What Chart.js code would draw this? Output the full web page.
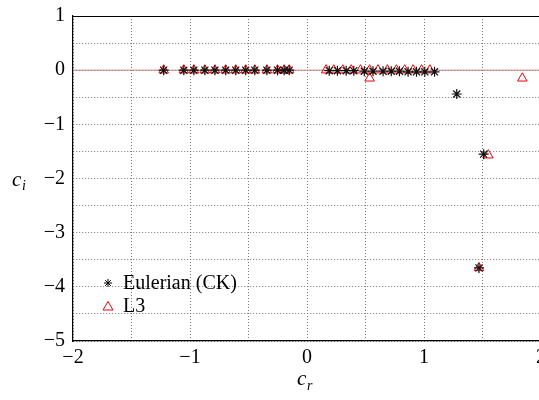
<!DOCTYPE html>
<html><head><meta charset="utf-8">
<script src="https://cdn.jsdelivr.net/npm/chart.js@4"></script>
<style>
html,body{margin:0;padding:0;background:#fff;overflow:hidden;width:539px;height:400px}
#wrap{position:absolute;left:0;top:-4px;width:551px;height:404px}
</style></head><body>
<div id="wrap"><canvas id="c"></canvas></div>
<script>
const eulerCr = [-1.225,-1.053,-0.967,-0.873,-0.787,-0.695,-0.609,-0.524,-0.446,-0.343,-0.252,-0.195,-0.152,
  0.19,0.26,0.335,0.40,0.49,0.564,0.65,0.72,0.79,0.864,0.936,1.007,1.09,1.28,1.51,1.47];
const eulerCi = [0,0,0,0,0,0,0,0,0,0,0,0,0,
  -0.01,-0.01,-0.01,-0.01,-0.02,-0.02,-0.02,-0.02,-0.02,-0.03,-0.03,-0.03,-0.03,-0.44,-1.55,-3.65];
const l3Cr = [-1.225,-1.053,-0.967,-0.873,-0.787,-0.695,-0.609,-0.524,-0.446,-0.343,-0.252,-0.195,-0.152,
  0.163,0.229,0.306,0.378,0.457,0.535,0.607,0.687,0.764,0.835,0.907,0.979,1.05,0.535,1.84,1.55,1.47];
const l3Ci = [0,0,0,0,0,0,0,0,0,0,0,0,0,
  0,0,0,0,0,0,0,0,0,0,0,0,0,-0.15,-0.15,-1.57,-3.65];
const xTicks = [-2,-1,0,1,2];
const yTicks = [1,0,-1,-2,-3,-4,-5];
const seriesNames = ['Eulerian (CK)','L3'];

const toPts = (xs,ys)=>xs.map((x,i)=>({x:x,y:ys[i]}));
const fmt = v => (v<0?'\u2212':'')+Math.abs(v);
const SERIF = '"Liberation Serif","DejaVu Serif",serif';
const OFF = 4; // wrap offset

const deco = {
  id:'deco',
  afterDraw(chart){
    const {ctx, chartArea:a} = chart;
    ctx.save();
    ctx.strokeStyle='#000'; ctx.lineWidth=1.2;
    ctx.beginPath(); ctx.moveTo(a.left, Math.round(a.top)+0.5); ctx.lineTo(a.right+10, Math.round(a.top)+0.5); ctx.stroke();
    // legend
    const lx = 108, ly1 = 283+OFF, ly2 = 306+OFF;
    ctx.fillStyle='#000'; ctx.font='20px '+SERIF; ctx.textBaseline='middle'; ctx.textAlign='left';
    ctx.strokeStyle='#000'; ctx.lineWidth=1;
    for(let k=0;k<4;k++){const ang=k*Math.PI/4; ctx.beginPath(); ctx.moveTo(lx-4*Math.cos(ang),ly1-4*Math.sin(ang)); ctx.lineTo(lx+4*Math.cos(ang),ly1+4*Math.sin(ang)); ctx.stroke();}
    ctx.fillText(seriesNames[0], 123, ly1+1);
    ctx.strokeStyle='#e00'; ctx.beginPath(); ctx.moveTo(lx,ly2-4.5); ctx.lineTo(lx+5,ly2+4); ctx.lineTo(lx-5,ly2+4); ctx.closePath(); ctx.stroke();
    ctx.fillText(seriesNames[1], 123, ly2+1);
    // axis titles
    ctx.font='italic 21px '+SERIF; ctx.textAlign='left'; ctx.textBaseline='alphabetic';
    ctx.fillText('c', 12, 186+OFF);
    ctx.font='italic 14px '+SERIF; ctx.fillText('i', 22, 190+OFF);
    ctx.font='italic 21px '+SERIF;
    ctx.fillText('c', 297, 385+OFF);
    ctx.font='italic 14px '+SERIF; ctx.fillText('r', 307, 390+OFF);
    ctx.restore();
  }
};

new Chart(document.getElementById('c'), {
  type:'scatter',
  data:{datasets:[
    {label:'zero', type:'line', data:[{x:-2,y:0},{x:2.1,y:0}], borderColor:'rgba(200,110,110,0.85)', borderWidth:1, pointRadius:0, order:3},
    {label:seriesNames[1], data:toPts(l3Cr,l3Ci), pointStyle:'triangle', pointRadius:5.5, borderColor:'#e00', backgroundColor:'rgba(0,0,0,0)', borderWidth:1, order:2},
    {label:seriesNames[0], data:toPts(eulerCr,eulerCi), pointStyle:'star', pointRadius:5, borderColor:'#111', backgroundColor:'#111', borderWidth:1.2, order:1}
  ]},
  options:{
    responsive:true, maintainAspectRatio:false, animation:false,
    layout:{padding:{left:0,right:0,top:0,bottom:0}},
    plugins:{legend:{display:false}, tooltip:{enabled:false}},
    scales:{
      x:{type:'linear', min:-2, max:2,
        ticks:{stepSize:0.5, color:'#000', font:{family:SERIF,size:20}, padding:5, maxRotation:0, autoSkip:false,
          callback:v=> xTicks.includes(v)?fmt(v):''},
        grid:{color:'#777', lineWidth:1, drawTicks:false},
        border:{display:true,color:'#000',width:1.2, dash:[1,2]},
        afterFit(s){ s.height = 59; }
      },
      y:{type:'linear', min:-5, max:1,
        ticks:{stepSize:0.5, color:'#000', font:{family:SERIF,size:20}, padding:8, autoSkip:false,
          callback:v=> yTicks.includes(v)?fmt(v):''},
        grid:{color:'#777', lineWidth:1, drawTicks:false},
        border:{display:true,color:'#000',width:1.2, dash:[1,2]},
        afterFit(s){ s.width = 73; }
      }
    }
  },
  plugins:[deco]
});
</script>
</body></html>
